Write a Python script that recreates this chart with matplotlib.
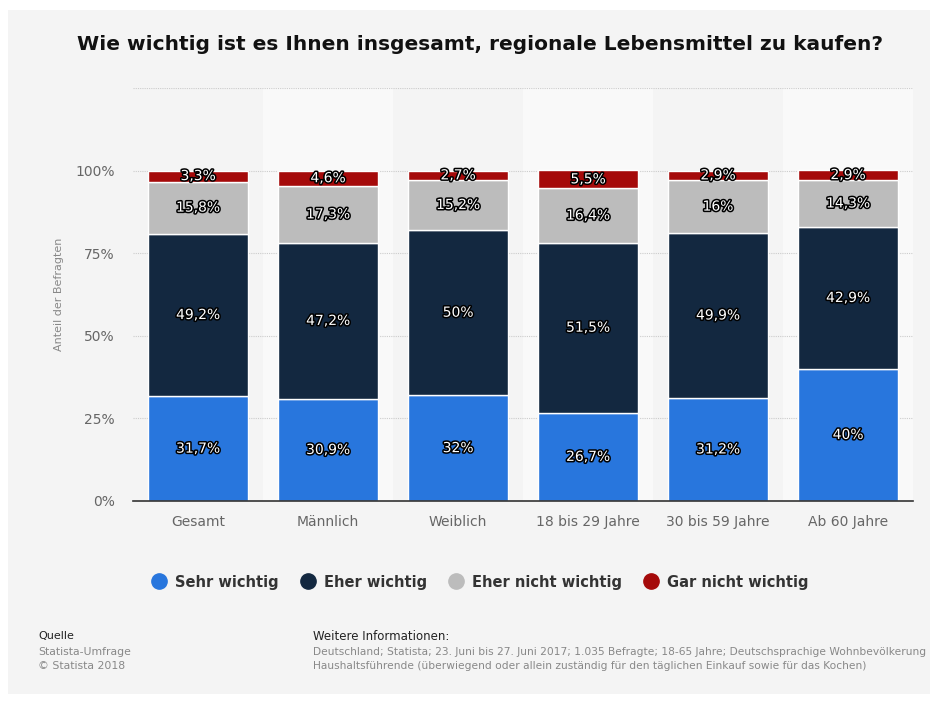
import numpy as np
import matplotlib.pyplot as plt
import matplotlib.patheffects as pe
from matplotlib.patches import Rectangle
from matplotlib.lines import Line2D

categories = ['Gesamt', 'Männlich', 'Weiblich', '18 bis 29 Jahre', '30 bis 59 Jahre', 'Ab 60 Jahre']
sehr_wichtig = [31.7, 30.9, 32, 26.7, 31.2, 40]
eher_wichtig = [49.2, 47.2, 50, 51.5, 49.9, 42.9]
eher_nicht_wichtig = [15.8, 17.3, 15.2, 16.4, 16, 14.3]
gar_nicht_wichtig = [3.3, 4.6, 2.7, 5.5, 2.9, 2.9]

series = [sehr_wichtig, eher_wichtig, eher_nicht_wichtig, gar_nicht_wichtig]
names = ['Sehr wichtig', 'Eher wichtig', 'Eher nicht wichtig', 'Gar nicht wichtig']
colors = ['#2876dd', '#132840', '#bcbcbc', '#a50a0a']

fig = plt.figure(figsize=(9.38, 7.02), dpi=100)
fig.patch.set_facecolor('white')
bg = Rectangle((8 / 938, 8 / 702), 922 / 938, 684 / 702, transform=fig.transFigure,
               facecolor='#f4f4f4', edgecolor='none', zorder=-10)
fig.add_artist(bg)

ax = fig.add_axes([133 / 938, 1 - 501 / 702, 780 / 938, 413 / 702])
ax.set_zorder(1)
ax.set_facecolor('none')
x = np.arange(len(categories))
ax.set_xlim(-0.5, len(categories) - 0.5)
ax.set_ylim(0, 125)

# alternating column backgrounds
for i in x:
    if i % 2 == 1:
        ax.axvspan(i - 0.5, i + 0.5, color='#f9f9f9', zorder=0, lw=0)

for yv in [25, 50, 75, 100, 125]:
    ax.axhline(yv, color='#cccccc', lw=0.8, ls=(0, (1, 1)), zorder=1)

def fmt(v):
    s = ('%g' % v).replace('.', ',')
    return s + '%'

bottom = np.zeros(len(categories))
for vals, name, c in zip(series, names, colors):
    vals = np.array(vals)
    ax.bar(x, vals, bottom=bottom, width=0.77, color=c, edgecolor='white', linewidth=1, zorder=2)
    for xi, b, v in zip(x, bottom, vals):
        t = ax.text(xi, b + v / 2, fmt(v), ha='center', va='center', color='white',
                    fontsize=10, zorder=3)
        t.set_path_effects([pe.withStroke(linewidth=2.2, foreground='black')])
    bottom += vals

ax.set_yticks([0, 25, 50, 75, 100])
ax.set_yticklabels(['0%', '25%', '50%', '75%', '100%'])
ax.set_xticks(x)
ax.set_xticklabels(categories)
ax.tick_params(axis='both', length=0, colors='#666666', labelsize=10)
ax.tick_params(axis='x', pad=10)
ax.tick_params(axis='y', pad=13)
for s in ['top', 'right', 'left']:
    ax.spines[s].set_visible(False)
ax.spines['bottom'].set_color('#333333')
ax.spines['bottom'].set_linewidth(1.2)
ax.set_ylabel('Anteil der Befragten', color='#888888', fontsize=8)
ax.yaxis.set_label_coords(-0.088, 0.5)

fig.text(480 / 938, 1 - 45 / 702, 'Wie wichtig ist es Ihnen insgesamt, regionale Lebensmittel zu kaufen?',
         ha='center', va='center', fontsize=14.5, fontweight='bold', color='#111111')

handles = [Line2D([0], [0], marker='o', ls='none', markersize=11, markerfacecolor=c,
                  markeredgecolor=c) for c in colors]
leg = fig.legend(handles, names, loc='center', bbox_to_anchor=(0.508, 1 - 582 / 702), ncol=4,
                 frameon=False, handletextpad=0.1, columnspacing=1.0,
                 prop={'weight': 'bold', 'size': 10.5})
for t in leg.get_texts():
    t.set_color('#333333')

fig.text(38 / 938, 1 - 636 / 702, 'Quelle', fontsize=8, color='#222222', va='center')
fig.text(38 / 938, 1 - 652 / 702, 'Statista-Umfrage', fontsize=7.8, color='#888888', va='center')
fig.text(38 / 938, 1 - 666 / 702, '© Statista 2018', fontsize=7.8, color='#888888', va='center')
fig.text(313 / 938, 1 - 636 / 702, 'Weitere Informationen:', fontsize=8.5, color='#222222', va='center')
fig.text(313 / 938, 1 - 652 / 702,
         'Deutschland; Statista; 23. Juni bis 27. Juni 2017; 1.035 Befragte; 18-65 Jahre; Deutschsprachige Wohnbevölkerung',
         fontsize=7.7, color='#888888', va='center')
fig.text(313 / 938, 1 - 666 / 702,
         'Haushaltsführende (überwiegend oder allein zuständig für den täglichen Einkauf sowie für das Kochen)',
         fontsize=7.7, color='#888888', va='center')

fig.savefig('out.png', dpi=100, facecolor=fig.get_facecolor())
